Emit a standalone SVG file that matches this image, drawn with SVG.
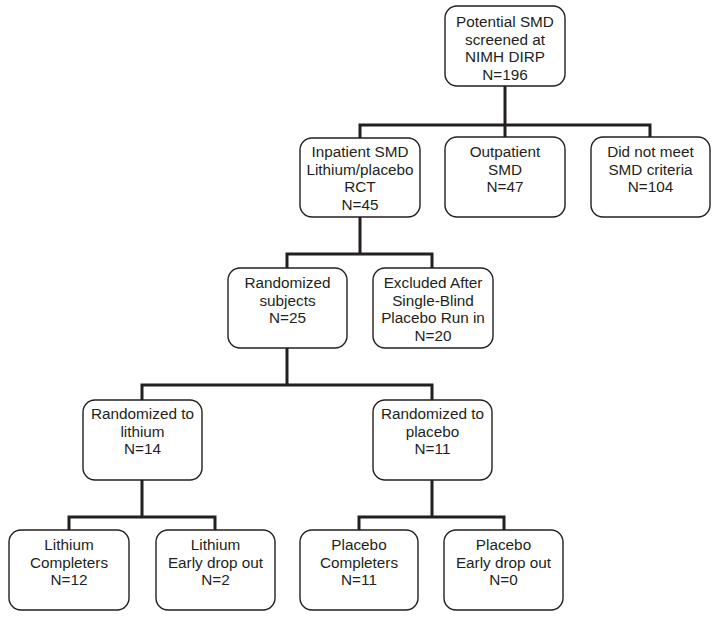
<svg xmlns="http://www.w3.org/2000/svg" width="717" height="617" viewBox="0 0 717 617">
<style>
.box{fill:#fff;stroke:#231f20;stroke-width:1.4}
.t{font-family:"Liberation Sans",Arial,sans-serif;font-size:15.3px;fill:#231f20;text-anchor:middle}
.c{fill:none;stroke:#231f20;stroke-width:3;stroke-linejoin:miter;stroke-linecap:butt}
</style>
<rect width="717" height="617" fill="#fff"/>
<g id="connectors">
<path class="c" d="M505,86V125M360,138V125H650V137M505,125V137"/>
<path class="c" d="M360,217V254M287,268V254H432V268"/>
<path class="c" d="M287,348V385M142,400V385H432V400"/>
<path class="c" d="M142,480V517M69,530V517H215V530"/>
<path class="c" d="M432,480V517M359,530V517H504V530"/>
</g>
<g id="screened">
<rect class="box" x="445" y="6" width="120" height="80" rx="12"/>
<text class="t" x="505" y="27">Potential SMD</text>
<text class="t" x="505" y="44.5">screened at</text>
<text class="t" x="505" y="62">NIMH DIRP</text>
<text class="t" x="505" y="79.5">N=196</text>
</g>
<g id="inpatient">
<rect class="box" x="300" y="138" width="120" height="79" rx="12"/>
<text class="t" x="360" y="157">Inpatient SMD</text>
<text class="t" x="360" y="174.5">Lithium/placebo</text>
<text class="t" x="360" y="192">RCT</text>
<text class="t" x="360" y="209.5">N=45</text>
</g>
<g id="outpatient">
<rect class="box" x="445" y="137" width="120" height="80" rx="12"/>
<text class="t" x="505" y="157">Outpatient</text>
<text class="t" x="505" y="174.5">SMD</text>
<text class="t" x="505" y="192">N=47</text>
</g>
<g id="notmet">
<rect class="box" x="591" y="137" width="119" height="80" rx="12"/>
<text class="t" x="650.5" y="157">Did not meet</text>
<text class="t" x="650.5" y="174.5">SMD criteria</text>
<text class="t" x="650.5" y="192">N=104</text>
</g>
<g id="randomized">
<rect class="box" x="228" y="268" width="119" height="80" rx="12"/>
<text class="t" x="287.5" y="288">Randomized</text>
<text class="t" x="287.5" y="305.5">subjects</text>
<text class="t" x="287.5" y="323">N=25</text>
</g>
<g id="excluded">
<rect class="box" x="373" y="268" width="120" height="80" rx="12"/>
<text class="t" x="433" y="288">Excluded After</text>
<text class="t" x="433" y="305.5">Single-Blind</text>
<text class="t" x="433" y="323">Placebo Run in</text>
<text class="t" x="433" y="340.5">N=20</text>
</g>
<g id="rand-lithium">
<rect class="box" x="83" y="400" width="119" height="80" rx="12"/>
<text class="t" x="142.5" y="419">Randomized to</text>
<text class="t" x="142.5" y="436.5">lithium</text>
<text class="t" x="142.5" y="454">N=14</text>
</g>
<g id="rand-placebo">
<rect class="box" x="373" y="400" width="119" height="80" rx="12"/>
<text class="t" x="432.5" y="419">Randomized to</text>
<text class="t" x="432.5" y="436.5">placebo</text>
<text class="t" x="432.5" y="454">N=11</text>
</g>
<g id="lithium-completers">
<rect class="box" x="9" y="530" width="120" height="80" rx="12"/>
<text class="t" x="69" y="550">Lithium</text>
<text class="t" x="69" y="567.5">Completers</text>
<text class="t" x="69" y="585">N=12</text>
</g>
<g id="lithium-dropout">
<rect class="box" x="156" y="530" width="119" height="80" rx="12"/>
<text class="t" x="215.5" y="550">Lithium</text>
<text class="t" x="215.5" y="567.5">Early drop out</text>
<text class="t" x="215.5" y="585">N=2</text>
</g>
<g id="placebo-completers">
<rect class="box" x="300" y="530" width="118" height="80" rx="12"/>
<text class="t" x="359" y="550">Placebo</text>
<text class="t" x="359" y="567.5">Completers</text>
<text class="t" x="359" y="585">N=11</text>
</g>
<g id="placebo-dropout">
<rect class="box" x="444" y="530" width="119" height="80" rx="12"/>
<text class="t" x="503.5" y="550">Placebo</text>
<text class="t" x="503.5" y="567.5">Early drop out</text>
<text class="t" x="503.5" y="585">N=0</text>
</g>
</svg>
